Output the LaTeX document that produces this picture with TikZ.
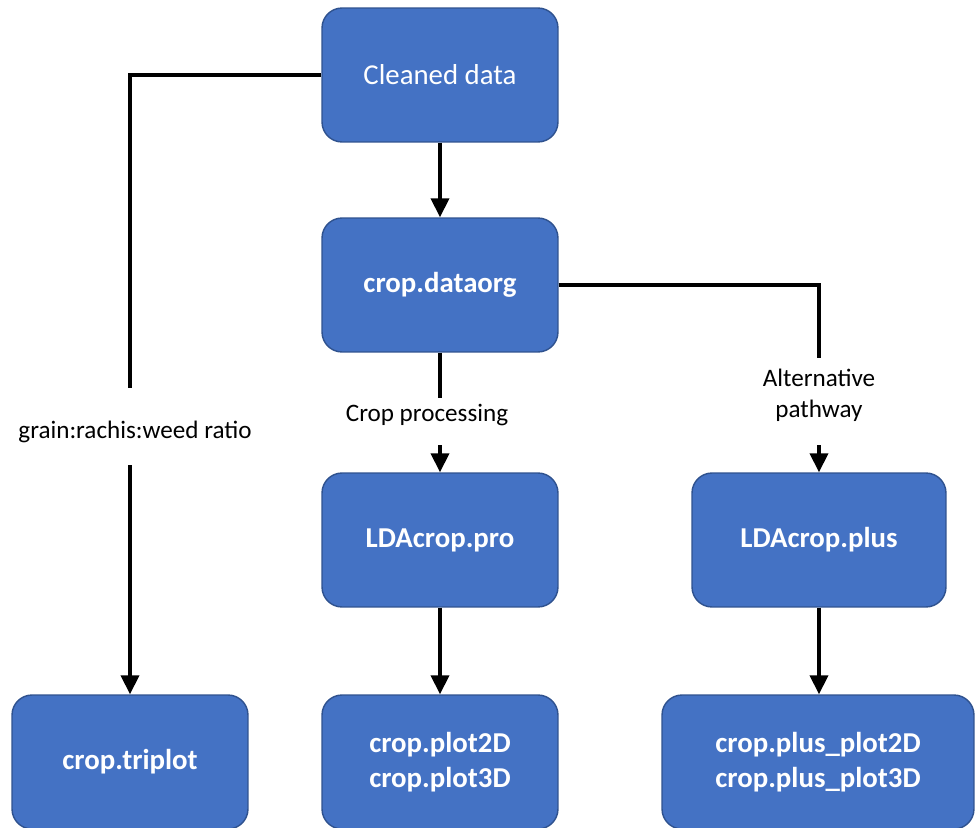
\documentclass[tikz,border=0pt]{standalone}
\usepackage{fontspec}
\setmainfont{Carlito}
\usetikzlibrary{arrows.meta}
\definecolor{boxblue}{HTML}{4472C4}
\definecolor{boxedge}{HTML}{2F528F}
\begin{document}
\begin{tikzpicture}[x=0.02cm,y=-0.02cm,
	box/.style={draw=boxedge,fill=boxblue,rounded corners=0.4cm,text=white,
		font=\fontsize{16.4}{20}\selectfont\bfseries,align=center,
		minimum width=4.72cm,minimum height=2.68cm,line width=0.8pt},
	link/.style={line width=2.2pt},
	arr/.style={link,-{Triangle[length=0.38cm,width=0.36cm]}},
	lbl/.style={font=\fontsize{14.3}{17.5}\selectfont,align=center,inner sep=0pt}]
	\useasboundingbox (0,0) rectangle (975,828);
	% Các hộp
	\node[box,font=\fontsize{16.4}{20}\selectfont] (clean) at (440,75) {Cleaned data};
	\node[box] (dataorg) at (440,285) {crop.dataorg};
	\node[box] (ldapro) at (440,540) {LDAcrop.pro};
	\node[box,minimum width=5.08cm] (ldaplus) at (819,540) {LDAcrop.plus};
	\node[box] (triplot) at (130,762) {crop.triplot};
	\node[box] (plot) at (440,762) {crop.plot2D\\crop.plot3D};
	\node[box,minimum width=6.24cm] (plusplot) at (818,762) {crop.plus\_plot2D\\crop.plus\_plot3D};
	% Nhãn
	\node[lbl] (ratio) at (135,432) {grain:rachis:weed ratio};
	\node[lbl] (proc) at (427,415) {Crop processing};
	\node[lbl] (alt) at (819,395) {Alternative\\pathway};
	\coordinate (rA) at (130,388);
	\coordinate (rB) at (130,465);
	\coordinate (pA) at (440,398);
	\coordinate (pB) at (440,445);
	\coordinate (aA) at (819,358);
	\coordinate (aB) at (819,445);
	% Đường nối
	\draw[link] (clean.west) -| (rA);
	\draw[arr] (rB) -- (triplot.north);
	\draw[arr] (clean) -- (dataorg);
	\draw[link] (dataorg.south) -- (pA);
	\draw[arr] (pB) -- (ldapro.north);
	\draw[link] (dataorg.east) -| (aA);
	\draw[arr] (aB) -- (ldaplus.north);
	\draw[arr] (ldapro) -- (plot);
	\draw[arr] (ldaplus) -- (ldaplus |- plusplot.north);
\end{tikzpicture}
\end{document}
